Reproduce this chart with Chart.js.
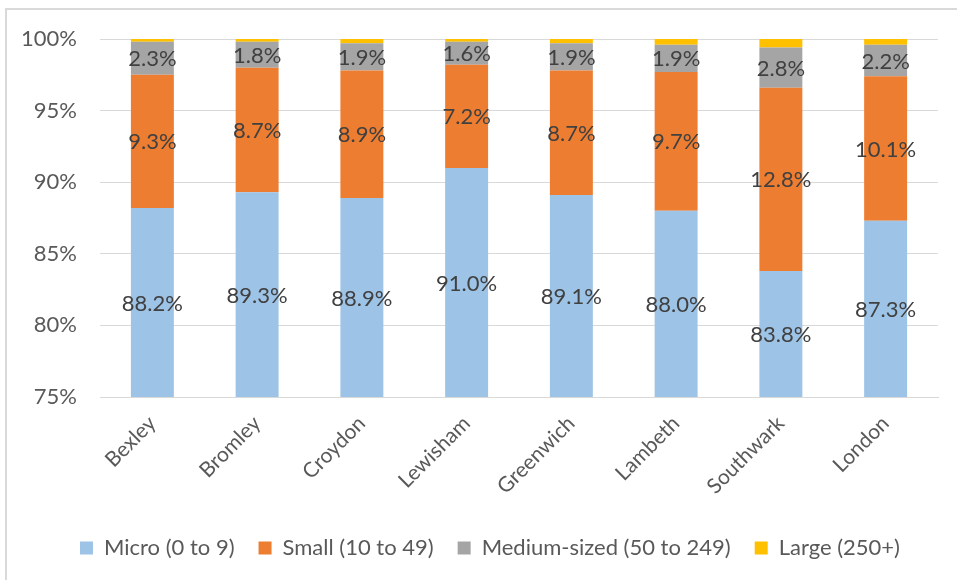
<!DOCTYPE html>
<html>
<head>
<meta charset="utf-8">
<script src="https://cdn.jsdelivr.net/npm/chart.js@4.4.1/dist/chart.umd.min.js"></script>
<style>
  html, body { margin: 0; padding: 0; background: #fff; overflow: hidden; }
  #wrap { position: relative; width: 957px; height: 580px; }
  #frame { position: absolute; left: 5px; top: 8px; width: 1000px; height: 1000px; border: 2px solid #d9d9d9; pointer-events: none; }
</style>
</head>
<body>
<div id="wrap">
  <canvas id="chart" width="957" height="580"></canvas>
  <div id="frame"></div>
</div>
<script>
const boroughs = ["Bexley", "Bromley", "Croydon", "Lewisham", "Greenwich", "Lambeth", "Southwark", "London"];
const microShare = [88.2, 89.3, 88.9, 91.0, 89.1, 88.0, 83.8, 87.3];
const smallShare = [9.3, 8.7, 8.9, 7.2, 8.7, 9.7, 12.8, 10.1];
const mediumShare = [2.3, 1.8, 1.9, 1.6, 1.9, 1.9, 2.8, 2.2];
const largeShare = [0.2, 0.2, 0.3, 0.2, 0.3, 0.4, 0.6, 0.4];

const fontFamily = "Lato, 'Open Sans', sans-serif";

// labels drawn in the middle of the visible part of each segment
const barLabels = {
  id: "barLabels",
  afterDatasetsDraw(chart) {
    const ctx = chart.ctx;
    const area = chart.chartArea;
    ctx.save();
    ctx.font = "22px " + fontFamily;
    ctx.fillStyle = "#404040";
    ctx.textAlign = "center";
    ctx.textBaseline = "middle";
    [0, 1, 2].forEach(i => {
      const meta = chart.getDatasetMeta(i);
      meta.data.forEach((bar, j) => {
        const top = Math.max(Math.min(bar.y, bar.base), area.top);
        const bottom = Math.min(Math.max(bar.y, bar.base), area.bottom);
        if (bottom <= top) return;
        const value = chart.data.datasets[i].data[j];
        ctx.fillText(value.toFixed(1) + "%", bar.x, (top + bottom) / 2 + 1);
      });
    });
    ctx.restore();
  }
};

// legend sits a little right of the canvas centre in the original
const legendShift = {
  id: "legendShift",
  afterLayout(chart) {
    if (chart.legend) {
      chart.legend.left += 16;
      chart.legend.right += 16;
    }
  }
};

new Chart(document.getElementById("chart"), {
  type: "bar",
  data: {
    labels: boroughs,
    datasets: [
      { label: "Micro (0 to 9)", data: microShare, backgroundColor: "#9dc3e6" },
      { label: "Small (10 to 49)", data: smallShare, backgroundColor: "#ed7d31" },
      { label: "Medium-sized (50 to 249)", data: mediumShare, backgroundColor: "#a5a5a5" },
      { label: "Large (250+)", data: largeShare, backgroundColor: "#ffc000" }
    ]
  },
  options: {
    responsive: false,
    animation: false,
    layout: { padding: { left: 10, right: 19, top: 39, bottom: 11 } },
    datasets: { bar: { categoryPercentage: 1, barPercentage: 0.41 } },
    plugins: {
      tooltip: { enabled: false },
      legend: {
        position: "bottom",
        labels: {
          color: "#595959",
          font: { family: fontFamily, size: 22 },
          boxWidth: 13,
          boxHeight: 13,
          padding: 24
        }
      }
    },
    scales: {
      x: {
        stacked: true,
        grid: { display: false },
        border: { color: "#d9d9d9", width: 1 },
        ticks: {
          color: "#595959",
          font: { family: fontFamily, size: 21 },
          minRotation: 45,
          maxRotation: 45,
          padding: 6
        },
        afterFit(scale) { scale.height = 116; }
      },
      y: {
        stacked: true,
        min: 75,
        max: 100,
        grid: { color: "#d9d9d9", lineWidth: 1, drawTicks: false },
        border: { display: false },
        ticks: {
          stepSize: 5,
          color: "#595959",
          font: { family: fontFamily, size: 22 },
          padding: 23,
          callback: v => v + "%"
        },
        afterFit(scale) { scale.width = 90; }
      }
    }
  },
  plugins: [barLabels, legendShift]
});
</script>
</body>
</html>
